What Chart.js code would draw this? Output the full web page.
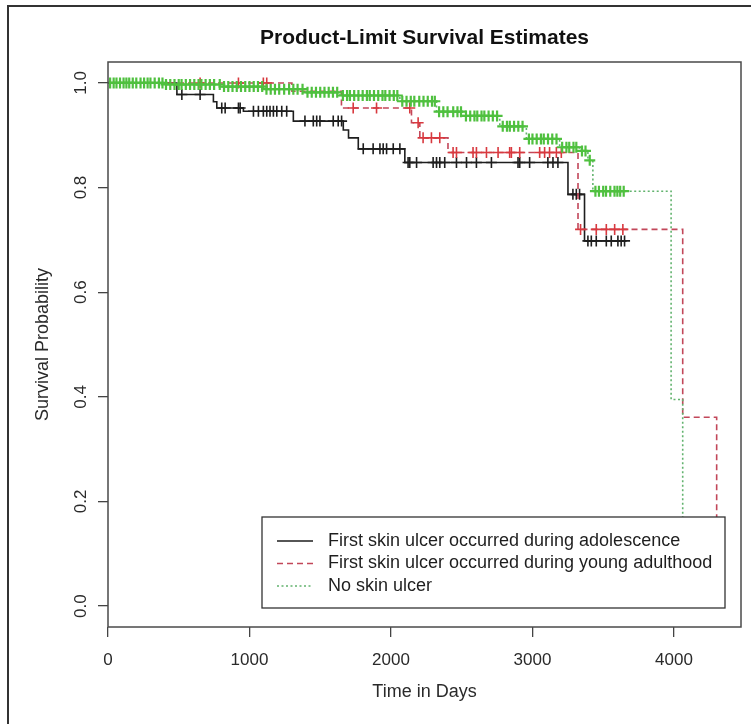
<!DOCTYPE html>
<html>
<head>
<meta charset="utf-8">
<script src="https://cdn.jsdelivr.net/npm/chart.js@4.4.1/dist/chart.umd.min.js"></script>
<style>
html, body { margin: 0; padding: 0; background: #fff; }
#wrap { position: relative; width: 751px; height: 724px; }
</style>
</head>
<body>
<div id="wrap"><canvas id="km"></canvas></div>
<script>
// ---------- data ----------
var titleText = 'Product-Limit Survival Estimates';
var xTitle = 'Time in Days';
var yTitle = 'Survival Probability';
var xTicks = [0, 1000, 2000, 3000, 4000];
var yTicks = [0, 0.2, 0.4, 0.6, 0.8, 1.0];
var groupLabels = [
    'First skin ulcer occurred during adolescence',
    'First skin ulcer occurred during young adulthood',
    'No skin ulcer'
];

// adolescence: step times and survival after each step
var adolTimes = [0, 487, 745, 769, 957, 1310, 1663, 1700, 1769, 2098, 3251, 3368, 3662];
var adolSurv  = [1, 0.978, 0.964, 0.952, 0.946, 0.927, 0.91, 0.895, 0.874, 0.848, 0.787, 0.698, 0.698];
var adolCensor = [522, 651, 804, 828, 922, 934, 1028, 1063, 1098, 1122, 1145, 1169, 1193, 1228, 1263,
    1392, 1451, 1475, 1498, 1592, 1627, 1651, 1804, 1874, 1922, 1945, 1969, 2016, 2063, 2121, 2133,
    2181, 2298, 2322, 2345, 2380, 2463, 2534, 2604, 2710, 2898, 2910, 2980, 3109, 3145, 3180, 3286,
    3310, 3333, 3392, 3416, 3451, 3522, 3557, 3604, 3627, 3651];

// young adulthood
var youngTimes = [0, 1300, 1650, 2145, 2204, 2403, 3322, 4062, 4302];
var youngSurv  = [1, 0.984, 0.952, 0.924, 0.895, 0.867, 0.72, 0.361, 0];
var youngCensor = [651, 922, 1098, 1122, 1733, 1898, 2133, 2192, 2227, 2286, 2345, 2439, 2463, 2580,
    2604, 2675, 2757, 2839, 2851, 2910, 3051, 3086, 3121, 3169, 3204, 3340, 3451, 3522, 3581, 3639];

// no skin ulcer
var noneTimes = [0, 400, 800, 1100, 1400, 1640, 2063, 2322, 2510, 2769, 2957, 3192, 3333, 3392, 3427, 3980, 4062];
var noneSurv  = [1, 0.997, 0.993, 0.988, 0.982, 0.976, 0.965, 0.945, 0.937, 0.917, 0.893, 0.877, 0.87, 0.852, 0.793, 0.395, 0];
var noneCensor = [15, 40, 60, 85, 110, 130, 150, 175, 200, 230, 255, 280, 300, 330, 360, 385, 410, 440,
    470, 500, 520, 550, 580, 610, 640, 660, 690, 720, 750, 790, 820, 850, 880, 910, 940, 970, 1000, 1030,
    1060, 1090, 1120, 1150, 1180, 1210, 1245, 1280, 1310, 1340, 1375, 1410, 1440, 1470, 1500, 1530, 1560,
    1590, 1620, 1660, 1690, 1710, 1740, 1770, 1800, 1830, 1850, 1880, 1910, 1940, 1960, 1990, 2020, 2045,
    2080, 2110, 2140, 2165, 2200, 2230, 2260, 2290, 2310, 2340, 2370, 2400, 2440, 2470, 2495, 2530, 2560,
    2590, 2610, 2640, 2660, 2690, 2720, 2750, 2790, 2820, 2840, 2870, 2900, 2930, 2975, 3000, 3030, 3060,
    3080, 3110, 3140, 3170, 3210, 3240, 3260, 3290, 3310, 3350, 3375, 3405, 3445, 3470, 3500, 3520, 3550,
    3580, 3600, 3620, 3645];

var xMax = 4474; // last time * 1.04, as R does

// ---------- helpers ----------
function survAt(times, surv, t) {
    var v = surv[0];
    for (var i = 0; i < times.length; i++) {
        if (times[i] <= t) v = surv[i];
    }
    return v;
}
function stepPoints(times, surv) {
    return times.map(function (t, i) { return { x: t, y: surv[i] }; });
}
function censorPoints(times, surv, cens) {
    return cens.map(function (t) { return { x: t, y: survAt(times, surv, t) }; });
}

var FONT = '"Liberation Sans", Arial, sans-serif';
var colBlack = '#1e1e1e';
var colRedLine = '#c2475a';
var colRedMark = '#d8393f';
var colGreenLine = '#62b36e';
var colGreenMark = '#4fc03f';

function lineSet(label, times, surv, color, dash, order) {
    return {
        type: 'line', label: label, data: stepPoints(times, surv),
        borderColor: color, borderWidth: 1.6, borderDash: dash, stepped: true,
        pointRadius: 0, fill: false, order: order
    };
}
function markSet(label, times, surv, cens, color, order, w) {
    return {
        type: 'scatter', label: label, data: censorPoints(times, surv, cens),
        pointStyle: 'cross', pointRadius: 5.5, pointBorderWidth: w,
        borderColor: color, backgroundColor: color, showLine: false, order: order
    };
}

// ---------- frame, box, titles, legend ----------
var decor = {
    id: 'decor',
    beforeDraw: function (chart) {
        var c = chart.ctx;
        c.save();
        c.fillStyle = '#fff';
        c.fillRect(0, 0, chart.width, chart.height);
        c.strokeStyle = '#333';
        c.lineWidth = 2;
        c.strokeRect(8, 6, 800, 800);
        c.restore();
    },
    afterDraw: function (chart) {
        var c = chart.ctx, a = chart.chartArea, ys = chart.scales.y;
        c.save();
        c.strokeStyle = '#4a4a4a';
        c.lineWidth = 1.5;
        c.strokeRect(a.left, a.top, a.right - a.left, a.bottom - a.top);

        c.fillStyle = '#111';
        c.textAlign = 'center';
        c.textBaseline = 'middle';
        c.font = 'bold 21px ' + FONT;
        c.fillText(titleText, (a.left + a.right) / 2, 38);

        c.fillStyle = '#2a2a2a';
        c.font = '17px ' + FONT;
        yTicks.forEach(function (v) {
            c.save();
            c.translate(a.left - 27, ys.getPixelForValue(v));
            c.rotate(-Math.PI / 2);
            c.fillText(v.toFixed(1), 0, 0);
            c.restore();
        });

        c.font = '18px ' + FONT;
        c.fillText(xTitle, (a.left + a.right) / 2, 692);
        c.save();
        c.translate(43, (a.top + a.bottom) / 2);
        c.rotate(-Math.PI / 2);
        c.fillText(yTitle, 0, 0);
        c.restore();

        // legend box (white fill, covers the curves like R)
        var lx = 262, ly = 517, lw = 463, lh = 91;
        c.fillStyle = '#fff';
        c.fillRect(lx, ly, lw, lh);
        c.strokeStyle = '#333';
        c.lineWidth = 1.3;
        c.strokeRect(lx, ly, lw, lh);
        var rows = [
            { color: colBlack, dash: [] },
            { color: colRedLine, dash: [6, 4] },
            { color: colGreenLine, dash: [2, 2.5] }
        ];
        c.textAlign = 'left';
        c.font = '18px ' + FONT;
        rows.forEach(function (r, i) {
            var y = ly + 24 + i * 22.5;
            c.strokeStyle = r.color;
            c.lineWidth = 1.6;
            c.setLineDash(r.dash);
            c.beginPath();
            c.moveTo(277, y);
            c.lineTo(313, y);
            c.stroke();
            c.setLineDash([]);
            c.fillStyle = '#1e1e1e';
            c.fillText(groupLabels[i], 328, y);
        });
        c.restore();
    }
};

new Chart(document.getElementById('km'), {
    data: {
        datasets: [
            lineSet(groupLabels[0], adolTimes, adolSurv, colBlack, [], 6),
            markSet(groupLabels[0], adolTimes, adolSurv, adolCensor, colBlack, 5, 1.6),
            lineSet(groupLabels[1], youngTimes, youngSurv, colRedLine, [6, 4], 4),
            markSet(groupLabels[1], youngTimes, youngSurv, youngCensor, colRedMark, 3, 1.6),
            lineSet(groupLabels[2], noneTimes, noneSurv, colGreenLine, [2, 2.5], 2),
            markSet(groupLabels[2], noneTimes, noneSurv, noneCensor, colGreenMark, 1, 2.2)
        ]
    },
    options: {
        responsive: true, maintainAspectRatio: false, animation: false,
        layout: { autoPadding: false, padding: { top: 62, right: 10, left: 0, bottom: 0 } },
        plugins: { legend: { display: false }, title: { display: false }, tooltip: { enabled: false } },
        scales: {
            x: {
                type: 'linear', min: 0, max: xMax,
                afterBuildTicks: function (s) { s.ticks = xTicks.map(function (v) { return { value: v }; }); },
                afterFit: function (s) { s.height = 97; },
                ticks: {
                    font: { size: 17, family: FONT }, color: '#2a2a2a', padding: 13, maxRotation: 0,
                    callback: function (v) { return String(v); }
                },
                grid: { display: true, drawOnChartArea: false, drawTicks: true, tickLength: 10, color: '#444', lineWidth: 1.3 },
                border: { display: false }
            },
            y: {
                type: 'linear', min: -0.04, max: 1.04,
                afterBuildTicks: function (s) { s.ticks = yTicks.map(function (v) { return { value: v }; }); },
                afterFit: function (s) { s.width = 108; },
                ticks: { display: false },
                grid: { display: true, drawOnChartArea: false, drawTicks: true, tickLength: 10, color: '#444', lineWidth: 1.3 },
                border: { display: false }
            }
        }
    },
    plugins: [decor]
});
</script>
</body>
</html>
